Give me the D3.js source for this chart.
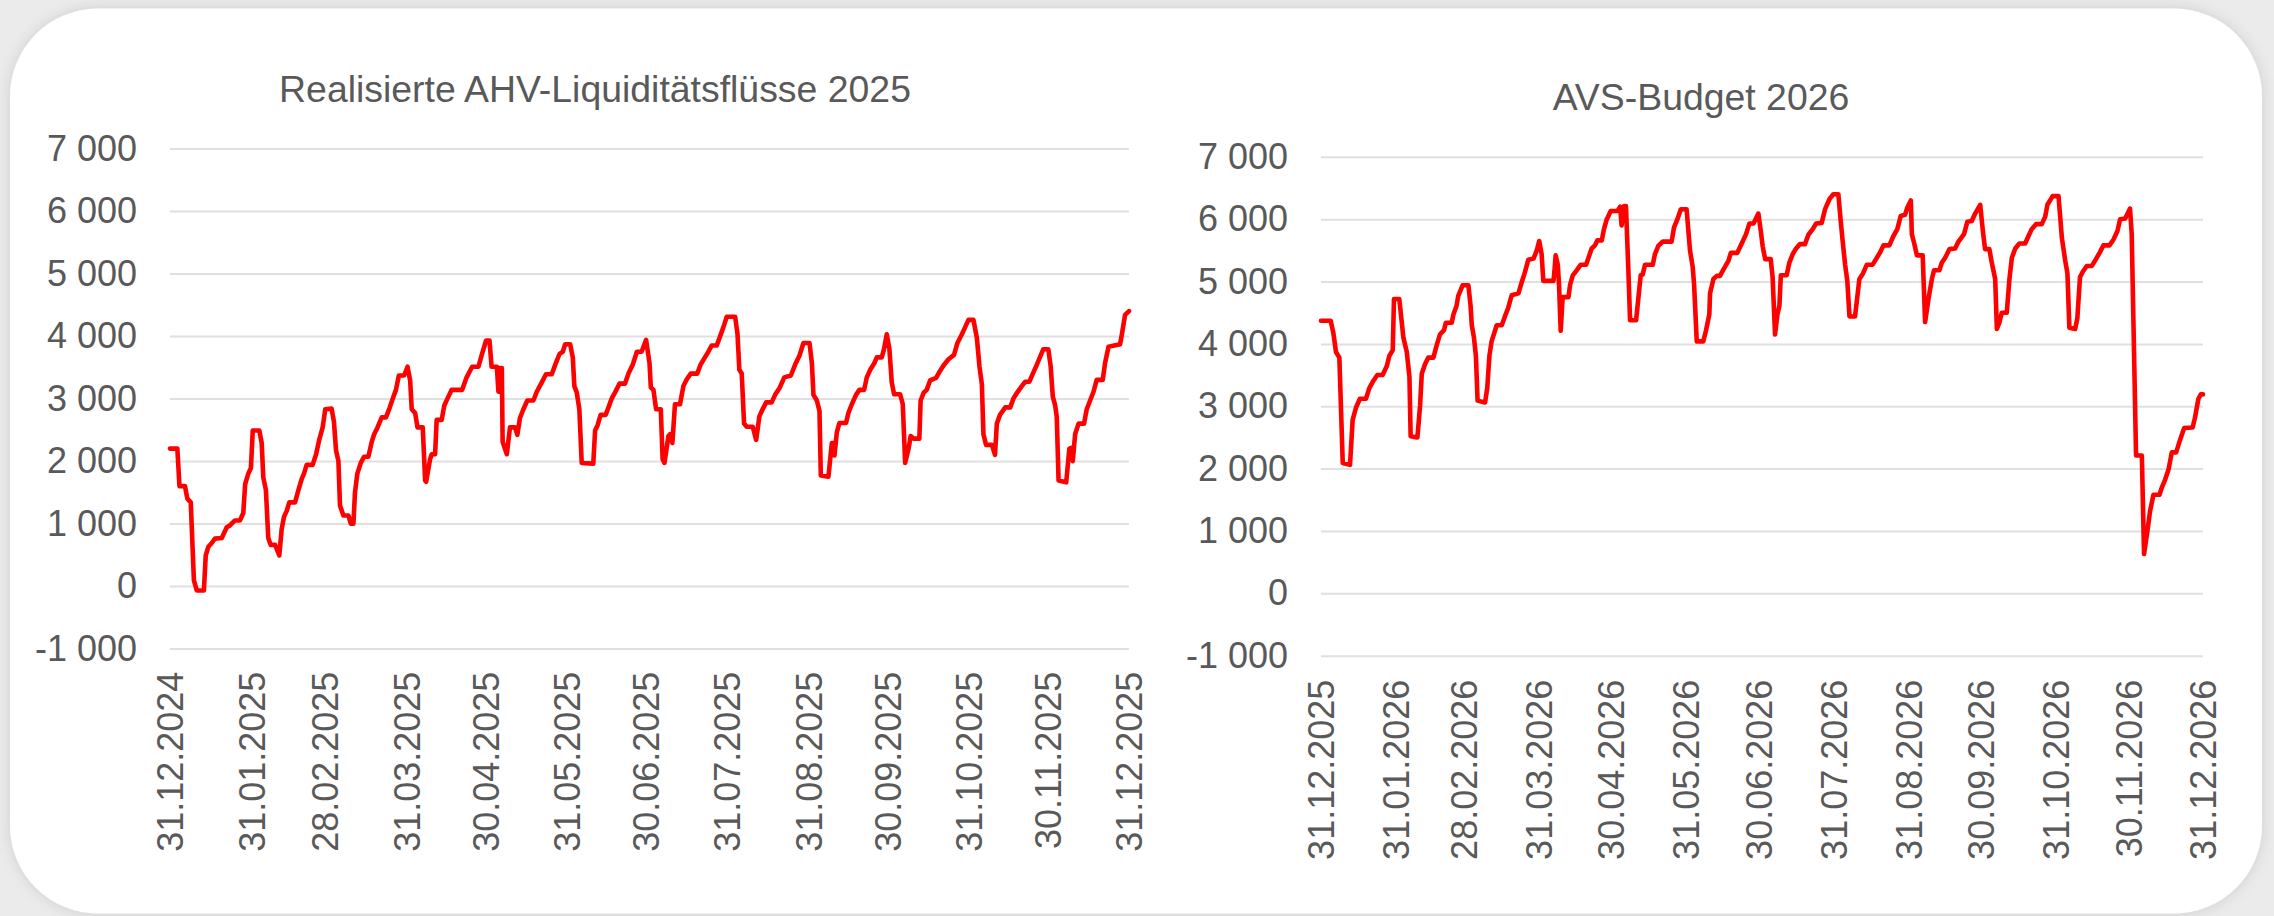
<!DOCTYPE html>
<html><head><meta charset="utf-8">
<script src="https://cdn.jsdelivr.net/npm/d3@7"></script>
<style>html,body{margin:0;padding:0;background:#ebebeb;overflow:hidden}svg{display:block}</style>
</head><body><svg id="c" width="2274" height="916"></svg>
<script>
// ---------- data ----------
const titleLeft = "Realisierte AHV-Liquiditätsflüsse 2025";
const titleRight = "AVS-Budget 2026";
const monthEnds2025 = ["31.12.2024","31.01.2025","28.02.2025","31.03.2025","30.04.2025","31.05.2025","30.06.2025","31.07.2025","31.08.2025","30.09.2025","31.10.2025","30.11.2025","31.12.2025"];
const monthEnds2026 = ["31.12.2025","31.01.2026","28.02.2026","31.03.2026","30.04.2026","31.05.2026","30.06.2026","31.07.2026","31.08.2026","30.09.2026","31.10.2026","30.11.2026","31.12.2026"];
const yTicks = [-1000,0,1000,2000,3000,4000,5000,6000,7000];

// days after 31.12.2024, values in Mio CHF
const ahvDays = [0,2.8,3.6,5.7,6.6,7.9,9.1,10.2,12.9,13.6,14.6,15.9,17.1,19.7,21.6,22.8,24.7,26.6,27.9,28.6,29.8,30.8,31.5,34,34.9,35.5,36.5,37.4,38.3,40,41.6,42.5,43.4,44.4,45.4,47.6,48.9,50.1,51,52,54.3,55.6,56.8,58.1,59.1,61.5,62.4,63.2,64.1,64.7,66,67.9,68.8,69.8,70.4,71.3,72.6,73.9,75.5,76.8,77.7,78.9,80.6,82.2,83.5,84.8,86,87.1,89.1,90.4,91.4,92,93.3,94.2,96.2,97.1,97.5,99,99.6,100.9,101.5,103.4,104.4,105.6,107.2,111.2,112.9,115,117.4,118.6,120.3,121.6,122.4,124.4,125,125.6,126.3,126.6,128.2,129.4,131.3,132.2,133.2,134.5,136,138.3,139.6,141.5,143.1,145.3,146.6,148.2,149.5,150.4,152.3,153.3,153.9,154.8,155.8,156.7,161.1,161.8,162.7,163.9,165.8,166.9,168.1,169.4,171.1,173.2,174.5,176.1,177.7,179.5,181.2,182.5,183,184,185,186.8,187.5,188.2,189.7,190.3,191.2,192.2,194.1,195.4,196.7,198.2,200.7,201.8,203.3,204.9,206.2,208.1,209.4,210.6,211.9,215.1,216,216.7,217.6,218.5,219.5,221.8,223.1,224.3,225.2,226.9,229,230.3,232,233.8,236.3,237.9,239.6,241.1,243.4,244.3,244.9,246.2,247.2,247.7,250.6,251.9,252.5,252.9,253.8,254.8,257.3,258.2,259.5,261.1,262.4,264.2,265.2,266.5,268,269,270.9,271.8,272.8,273.8,274.7,275.6,277.9,278.9,279.8,281.1,281.9,283,285.2,285.7,286.8,288,289.3,291.6,292.9,294.4,296.3,298.4,299.7,301.4,302.6,303.9,305.8,307.1,308.1,309,309.6,310.6,312.8,314,314.7,315.9,317.9,319.8,321,322.5,324.2,325.5,327.1,328.4,329.9,331.2,332.4,334.3,335.2,336,336.9,337.5,338.2,341.1,342.3,343,343.6,344.5,345.8,347.9,348.9,350.2,351.5,352.7,355,355.9,357.2,361.6,362.3,363.5,365];
const ahvValues = [2200,2200,1600,1600,1400,1340,90,-70,-70,490,630,690,760,770,940,970,1050,1050,1170,1630,1800,1890,2490,2490,2290,1740,1540,770,660,660,490,910,1110,1200,1340,1340,1540,1710,1800,1940,1940,2110,2340,2540,2830,2840,2630,2170,2000,1290,1130,1130,1000,1000,1490,1800,1970,2070,2070,2310,2430,2530,2700,2700,2840,3000,3140,3370,3370,3510,3290,2830,2770,2540,2540,1690,1670,2030,2110,2110,2660,2660,2890,3000,3140,3140,3340,3510,3510,3690,3930,3930,3510,3510,3110,3490,3490,2310,2110,2540,2540,2420,2690,2830,2970,2970,3110,3260,3390,3390,3540,3710,3750,3870,3870,3660,3200,3100,2830,1970,1960,2490,2570,2740,2740,2860,3000,3100,3240,3240,3400,3540,3750,3750,3940,3570,3180,3140,2830,2830,2030,1970,2400,2430,2290,2910,2910,3200,3310,3400,3400,3530,3640,3750,3850,3850,4000,4140,4310,4310,4030,3460,3400,2600,2550,2550,2340,2710,2800,2940,2940,3060,3170,3340,3370,3540,3690,3890,3890,3570,3060,2970,2800,1770,1750,2290,2290,2090,2460,2610,2610,2770,2910,3060,3140,3140,3340,3460,3560,3660,3660,3800,4030,3800,3260,3070,3070,2910,1970,2200,2400,2360,2360,2970,3090,3140,3290,3330,3430,3530,3630,3700,3890,4030,4140,4260,4260,3970,3510,3230,2430,2260,2260,2100,2600,2740,2860,2860,3000,3100,3200,3270,3270,3400,3540,3670,3790,3790,3510,3030,2890,2710,1690,1660,2200,2210,2000,2430,2600,2600,2830,2970,3110,3300,3300,3570,3830,3870,4030,4340,4400];

// days after 31.12.2025, values in Mio CHF
const avsDays = [0,4,5.1,6.2,7.6,9,12,13.1,14.5,16.1,18.6,20,21.7,23.3,25.5,27.2,28.3,29.7,30.2,32.4,34.1,35.5,36.6,37.1,39.9,41,41.7,43,44.4,46.5,47.9,49.2,50.9,51.7,54.1,54.8,56.1,56.8,58.6,61,61.9,62.4,63.3,64.1,64.8,67.9,68.8,69.7,70.6,72,72.7,74.8,76.1,77.5,78.9,81.7,83,84.4,85.8,88,89.3,90.3,91.3,92,96.2,96.6,97.1,98,98.5,99.2,100,102.4,103.1,104.2,105.8,107.5,109.7,110.7,112,113.4,114.4,116.2,117.1,118.2,119.9,122.7,123.8,124.4,125.4,126.2,127.2,127.9,130.4,131.3,132.3,133.1,134.1,137.3,138.2,139.6,141.4,145.1,146.1,147.5,148.9,151.3,152.7,153.8,154.4,155.5,158.2,159.3,160.7,161,162.4,163.8,165.1,166.8,168.6,169.6,172.3,174.1,175.9,177.3,179,181,182,182.8,183.8,186.1,186.9,187.9,188.9,189.7,190.3,192.7,193.8,195.2,196.6,198.2,200.3,201.7,203.5,204.9,207.2,208.6,210.4,212,214.1,215.1,215.9,216.9,217.8,218.7,221,221.7,222.8,224.3,225.9,228.3,230,231.4,232.8,235.2,236.9,238.5,239.9,241.7,242.7,244.1,244.5,245.5,246.6,249,250,251.4,252.8,253.7,255.9,256.9,258.3,260.1,262.4,263.8,266.1,267.5,269.3,270.7,272.8,273.9,274.8,276.6,277.6,279,279.7,280.8,281.7,283.8,284.9,285.9,287.3,289,291.4,292.8,294.1,295.9,298.3,299.7,300.6,302.8,305.2,305.9,306.6,308,308.9,309.7,312.1,313,314.1,315.3,316.9,319,320.4,322.2,323.8,326.3,327.9,329.6,330.7,332.8,334.8,335.5,337.3,339.7,340.6,342,343.1,344.5,347,347.9,349.3,350.7,352.1,353.9,355.5,357.2,360.7,361.7,363.1,364.1,365];
const avsValues = [4370,4370,4180,3870,3780,2090,2060,2780,2980,3120,3120,3290,3410,3500,3500,3640,3810,3900,4720,4720,4100,3870,3470,2520,2500,3010,3520,3670,3780,3780,3980,4150,4220,4340,4340,4470,4610,4770,4940,4940,4610,4300,4100,3810,3090,3060,3290,3810,4040,4210,4300,4300,4440,4580,4780,4810,4980,5150,5350,5370,5500,5650,5440,5010,5010,5160,5420,5270,4950,4210,4750,4750,4950,5100,5180,5270,5270,5380,5530,5580,5660,5660,5840,5990,6130,6130,6200,5900,6210,6210,5180,4380,4380,4720,5100,5110,5270,5270,5440,5570,5640,5640,5870,6000,6160,6160,5500,5240,4950,4040,4040,4210,4470,4810,5040,5090,5090,5210,5330,5460,5460,5610,5760,5930,5930,6090,5810,5560,5360,5360,5070,4150,4470,4610,5100,5100,5300,5440,5530,5600,5600,5750,5840,5930,5940,6160,6320,6400,6400,5960,5640,5270,5010,4440,4440,4670,5040,5130,5270,5270,5380,5470,5580,5580,5730,5840,6050,6070,6190,6300,5760,5610,5420,5420,4350,4720,5040,5180,5180,5300,5380,5520,5530,5640,5760,5960,5970,6090,6230,5810,5520,5520,5300,5040,4240,4350,4500,4500,5040,5380,5530,5610,5610,5730,5840,5920,5920,6040,6230,6370,6370,6040,5700,5330,5130,4260,4240,4410,5070,5160,5250,5250,5340,5460,5580,5580,5670,5810,6000,6010,6170,5760,2210,2210,630,1000,1320,1580,1580,1690,1820,1980,2260,2260,2460,2650,2660,2820,3120,3190,3190];

// ---------- drawing ----------
const svg = d3.select("#c");
const FONT = "'Liberation Sans', Arial, sans-serif";
const TXT = "#595959";
const parse = d3.utcParse("%d.%m.%Y");
const fmtDate = d3.utcFormat("%d.%m.%Y");
const loc = d3.formatLocale({decimal: ".", thousands: " ", grouping: [3], currency: ["", ""], minus: "-"});
const fmtNum = loc.format(",d");

const defs = svg.append("defs");
const f = defs.append("filter").attr("id", "sh").attr("x", "-5%").attr("y", "-5%").attr("width", "110%").attr("height", "110%");
f.append("feDropShadow").attr("dx", 0).attr("dy", 0).attr("stdDeviation", 7).attr("flood-color", "#000").attr("flood-opacity", 0.13);

svg.append("rect").attr("x", 10).attr("y", 8.5).attr("width", 2252).attr("height", 905)
  .attr("rx", 88).attr("fill", "#fff").attr("filter", "url(#sh)");

function drawChart(c) {
  const dates = c.labels.map(parse);
  const t0 = dates[0];
  const x = d3.scaleUtc().domain([t0, dates[dates.length - 1]]).range([c.left, c.right]);
  const y = d3.scaleLinear().domain([d3.min(yTicks), d3.max(yTicks)]).range([c.bottom, c.top]);
  const g = svg.append("g");

  // gridlines
  const grid = g.append("g").attr("transform", `translate(${c.left},0)`)
    .call(d3.axisLeft(y).tickValues(yTicks).tickSize(-(c.right - c.left)).tickFormat(""));
  grid.select(".domain").remove();
  grid.selectAll(".tick line").attr("stroke", "#e0e0e0").attr("stroke-width", 2);

  // y labels
  const ya = g.append("g").attr("transform", `translate(${c.left},0)`)
    .call(d3.axisLeft(y).tickValues(yTicks).tickSize(0).tickPadding(33).tickFormat(fmtNum));
  ya.select(".domain").remove();
  ya.selectAll("text").attr("font-family", FONT).attr("font-size", 36).attr("fill", TXT);

  // x labels
  const xa = g.append("g").attr("transform", `translate(0,${c.bottom})`)
    .call(d3.axisBottom(x).tickValues(dates).tickSize(0).tickFormat(fmtDate));
  xa.select(".domain").remove();
  xa.selectAll("text")
    .attr("font-family", FONT).attr("font-size", 36).attr("fill", TXT)
    .attr("transform", "rotate(-90)").attr("text-anchor", "end")
    .attr("x", -c.labelGap).attr("y", 0).attr("dy", "0.36em");

  // title
  g.append("text").attr("x", c.titleX).attr("y", c.titleY).attr("text-anchor", "middle")
    .attr("font-family", FONT).attr("font-size", 37.4).attr("fill", TXT).text(c.title);

  // line
  const pts = c.days.map((d, i) => [new Date(t0.getTime() + d * 864e5), c.values[i]]);
  g.append("path").datum(pts)
    .attr("fill", "none").attr("stroke", "#ff0000").attr("stroke-width", 4.6)
    .attr("stroke-linejoin", "round").attr("stroke-linecap", "round")
    .attr("d", d3.line().x(p => x(p[0])).y(p => y(p[1])));
}

drawChart({title: titleLeft, labels: monthEnds2025, days: ahvDays, values: ahvValues,
  left: 170, right: 1129, top: 148.6, bottom: 648.6, labelGap: 23, titleX: 595, titleY: 101.5});
drawChart({title: titleRight, labels: monthEnds2026, days: avsDays, values: avsValues,
  left: 1321, right: 2203, top: 156.8, bottom: 655.7, labelGap: 24, titleX: 1701, titleY: 110});
</script>
</body></html>
